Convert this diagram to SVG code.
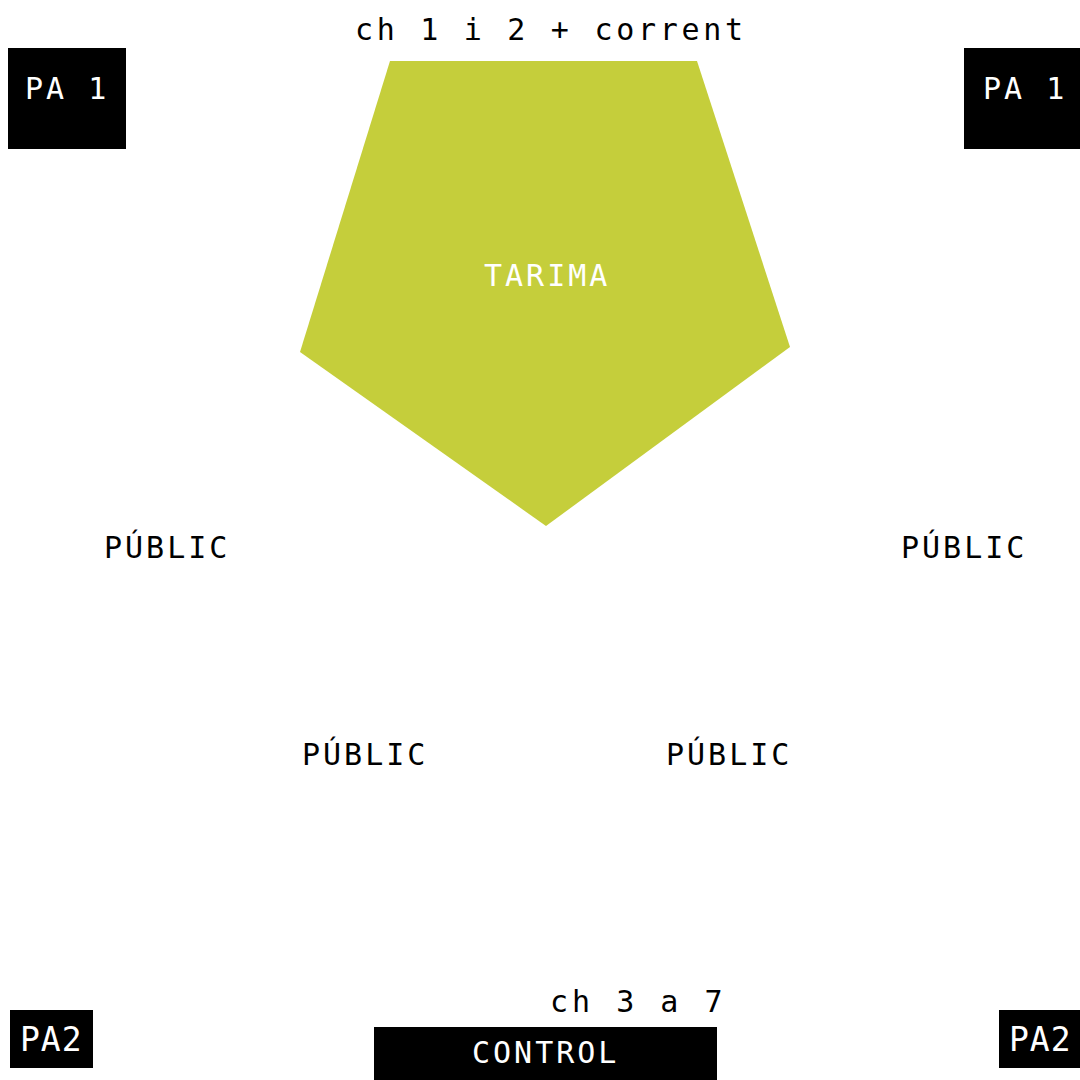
<svg xmlns="http://www.w3.org/2000/svg" width="1080" height="1080" viewBox="0 0 1080 1080">
<style>
.t{font-family:"DejaVu Sans Mono","Liberation Mono",monospace;font-size:30px;letter-spacing:3px}
.k{fill:#000}
.w{fill:#fff}
.box{fill:#000}
.tall{font-size:33px;letter-spacing:1px}
</style>
<rect width="1080" height="1080" fill="#fff"/>
<g id="tarima">
<polygon points="390,61 697,61 790,347 546,526 300,352" fill="#c5ce3b"/>
<text class="t w" x="484" y="286">TARIMA</text>
</g>
<text class="t k" x="355" y="40" style="letter-spacing:3.7px">ch 1 i 2 + corrent</text>
<g id="pa1-left">
<rect class="box" x="8" y="48" width="118" height="101"/>
<text class="t w" x="25" y="99">PA 1</text>
</g>
<g id="pa1-right">
<rect class="box" x="964" y="48" width="118" height="101"/>
<text class="t w" x="983" y="99">PA 1</text>
</g>
<g id="public">
<text class="t k" x="104" y="558">PÚBLIC</text>
<text class="t k" x="901" y="558">PÚBLIC</text>
<text class="t k" x="302" y="765">PÚBLIC</text>
<text class="t k" x="666" y="765">PÚBLIC</text>
</g>
<text class="t k" x="550" y="1012" style="letter-spacing:4px">ch 3 a 7</text>
<g id="pa2-left">
<rect class="box" x="10" y="1010" width="83" height="58"/>
<text class="t w tall" x="20" y="1051">PA2</text>
</g>
<g id="control">
<rect class="box" x="374" y="1027" width="343" height="53"/>
<text class="t w" x="472" y="1063">CONTROL</text>
</g>
<g id="pa2-right">
<rect class="box" x="999" y="1010" width="83" height="58"/>
<text class="t w tall" x="1009" y="1051">PA2</text>
</g>
</svg>
